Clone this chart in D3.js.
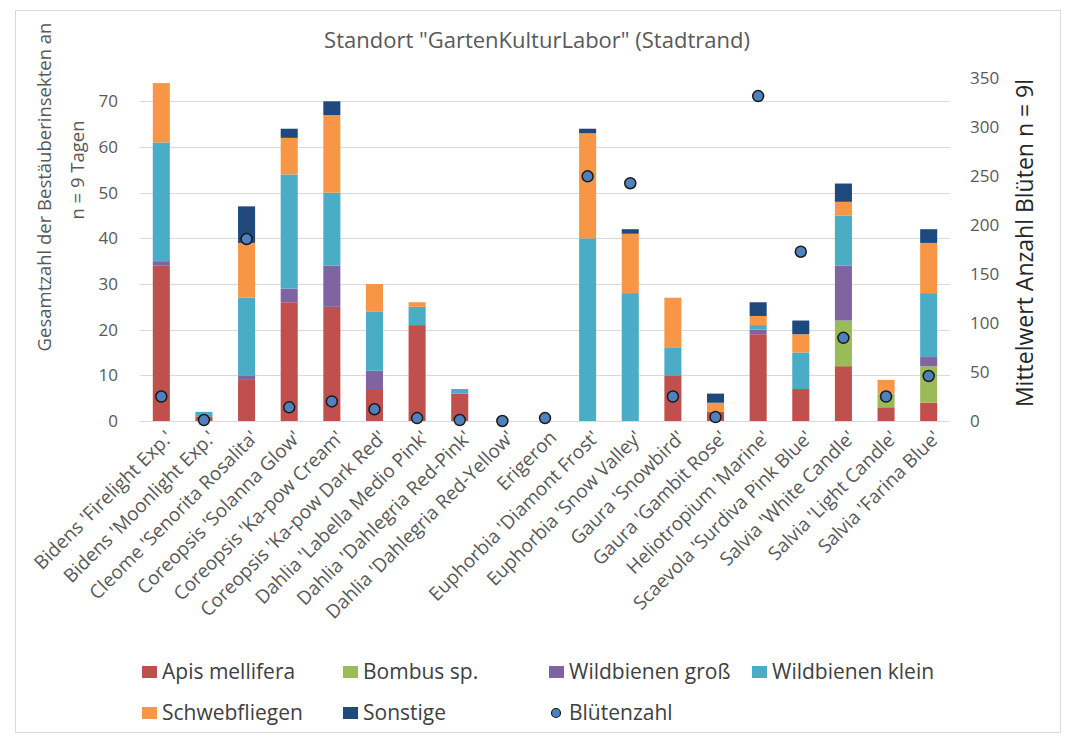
<html>
<head>
<meta charset="utf-8">
<script src="https://d3js.org/d3.v7.min.js"></script>
<style>
  body { margin: 0; background: #fff; }
  text { font-family: "Open Sans", sans-serif; }
</style>
</head>
<body>
<svg id="chart" width="1072" height="736"></svg>
<script>
// categories (plants)
const plants = ["Bidens 'Firelight Exp.'", "Bidens 'Moonlight Exp.'", "Cleome 'Senorita Rosalita'",
  "Coreopsis 'Solanna Glow'", "Coreopsis 'Ka-pow Cream'", "Coreopsis 'Ka-pow Dark Red'",
  "Dahlia 'Labella Medio Pink'", "Dahlia 'Dahlegria Red-Pink'", "Dahlia 'Dahlegria Red-Yellow'",
  "Erigeron", "Euphorbia 'Diamont Frost'", "Euphorbia 'Snow Valley'", "Gaura 'Snowbird'",
  "Gaura 'Gambit Rose'", "Heliotropium 'Marine'", "Scaevola 'Surdiva Pink Blue'",
  "Salvia 'White Candle'", "Salvia 'Light Candle'", "Salvia 'Farina Blue'"];

// insect counts per plant (left axis)
const apis       = [34, 1,  9, 26, 25, 7, 21, 6, 0, 0,  0,  0, 10, 2, 19,  7, 12, 3,  4];
const bombus     = [ 0, 0,  0,  0,  0, 0,  0, 0, 0, 0,  0,  0,  0, 0,  0,  0, 10, 3,  8];
const wildGross  = [ 1, 0,  1,  3,  9, 4,  0, 0, 0, 0,  0,  0,  0, 0,  1,  0, 12, 0,  2];
const wildKlein  = [26, 1, 17, 25, 16, 13, 4, 1, 0, 0, 40, 28,  6, 0,  1,  8, 11, 0, 14];
const schweb     = [13, 0, 12,  8, 17, 6,  1, 0, 0, 0, 23, 13, 11, 2,  2,  4,  3, 3, 11];
const sonstige   = [ 0, 0,  8,  2,  3, 0,  0, 0, 0, 0,  1,  1,  0, 2,  3,  3,  4, 0,  3];

// mean number of flowers (right axis)
const bluetenzahl = [25, 1, 186, 14, 20, 12, 3, 1, 0, 3, 250, 243, 25, 4, 332, 173, 85, 25, 46];

const seriesNames = ["Apis mellifera", "Bombus sp.", "Wildbienen groß", "Wildbienen klein", "Schwebfliegen", "Sonstige"];
const seriesValues = [apis, bombus, wildGross, wildKlein, schweb, sonstige];
const seriesColors = ["#C0504D", "#9BBB59", "#8064A2", "#4BACC6", "#F79646", "#1F497D"];

const leftTicks = [0, 10, 20, 30, 40, 50, 60, 70];
const rightTicks = [0, 50, 100, 150, 200, 250, 300, 350];

const svg = d3.select("#chart");

// outer chart border
svg.append("rect").attr("x", 15.5).attr("y", 10.5).attr("width", 1045).attr("height", 722)
  .attr("fill", "none").attr("stroke", "#d9d9d9");

const x = d3.scaleBand().domain(plants).range([140, 950]).paddingInner(0.6).paddingOuter(0.3);
const yL = d3.scaleLinear().domain([0, 75]).range([421, 78.5]);
const yR = d3.scaleLinear().domain([0, 350]).range([421, 78.5]);

// gridlines
svg.append("g").selectAll("line").data(leftTicks).join("line")
  .attr("x1", 140).attr("x2", 950)
  .attr("y1", d => Math.round(yL(d)) + 0.5).attr("y2", d => Math.round(yL(d)) + 0.5)
  .attr("stroke", "#d9d9d9").attr("stroke-width", 1);

// left axis
const axL = svg.append("g").attr("transform", "translate(140,0)")
  .call(d3.axisLeft(yL).tickValues(leftTicks).tickSize(0).tickPadding(22));
axL.select(".domain").remove();
axL.selectAll("text").attr("font-size", 17).attr("fill", "#595959").attr("font-family", "Open Sans");

// right axis
const axR = svg.append("g").attr("transform", "translate(950,0)")
  .call(d3.axisRight(yR).tickValues(rightTicks).tickSize(0).tickPadding(20));
axR.select(".domain").remove();
axR.selectAll("text").attr("font-size", 17).attr("fill", "#595959").attr("font-family", "Open Sans");

// stacked data
const rows = plants.map((p, i) => {
  const r = { plant: p };
  seriesNames.forEach((s, k) => r[s] = seriesValues[k][i]);
  return r;
});
const stack = d3.stack().keys(seriesNames)(rows);

svg.append("g").selectAll("g").data(stack).join("g")
  .attr("fill", (d, i) => seriesColors[i])
  .selectAll("rect").data(d => d).join("rect")
  .attr("x", d => x(d.data.plant))
  .attr("width", x.bandwidth())
  .attr("y", d => yL(d[1]))
  .attr("height", d => yL(d[0]) - yL(d[1]));

// bottom axis line
svg.append("line").attr("x1", 140).attr("x2", 950).attr("y1", 421.5).attr("y2", 421.5)
  .attr("stroke", "#d9d9d9");

// category labels
const axB = svg.append("g").attr("transform", "translate(0,421)")
  .call(d3.axisBottom(x).tickSize(0).tickPadding(0));
axB.select(".domain").remove();
axB.selectAll("text")
  .attr("font-size", 19).attr("fill", "#595959").attr("font-family", "Open Sans")
  .attr("text-anchor", "end")
  .attr("dy", "0.35em")
  .attr("transform", "translate(8,13) rotate(-45)");

// flower dots
svg.append("g").selectAll("circle").data(bluetenzahl).join("circle")
  .attr("cx", (d, i) => x(plants[i]) + x.bandwidth() / 2)
  .attr("cy", d => yR(d))
  .attr("r", 5.5)
  .attr("fill", "#4F81BD").attr("stroke", "#1a1a1a").attr("stroke-width", 1.5);

// title
svg.append("text").attr("x", 537).attr("y", 48).attr("text-anchor", "middle")
  .attr("font-size", 22).attr("fill", "#595959")
  .text('Standort "GartenKulturLabor" (Stadtrand)');

// left axis title
svg.append("text").attr("transform", "translate(51,187) rotate(-90)")
  .attr("text-anchor", "middle").attr("font-size", 18.5).attr("fill", "#595959")
  .text("Gesamtzahl der Bestäuberinsekten an");
svg.append("text").attr("transform", "translate(84,170) rotate(-90)")
  .attr("text-anchor", "middle").attr("font-size", 18.5).attr("fill", "#595959")
  .text("n = 9 Tagen");

// right axis title
svg.append("text").attr("transform", "translate(1033,243) rotate(-90)")
  .attr("text-anchor", "middle").attr("font-size", 23).attr("fill", "#262626")
  .text("Mittelwert Anzahl Blüten n = 9l");

// legend
const legendItems = [
  { name: "Apis mellifera", color: seriesColors[0], x: 142, y: 672 },
  { name: "Bombus sp.", color: seriesColors[1], x: 343, y: 672 },
  { name: "Wildbienen groß", color: seriesColors[2], x: 549, y: 672 },
  { name: "Wildbienen klein", color: seriesColors[3], x: 752, y: 672 },
  { name: "Schwebfliegen", color: seriesColors[4], x: 142, y: 713 },
  { name: "Sonstige", color: seriesColors[5], x: 343, y: 713 },
  { name: "Blütenzahl", color: "#4F81BD", x: 549, y: 713, dot: true }
];
const lg = svg.append("g").selectAll("g").data(legendItems).join("g")
  .attr("transform", d => `translate(${d.x},${d.y})`);
lg.filter(d => !d.dot).append("rect").attr("x", 0).attr("y", -6).attr("width", 15).attr("height", 12)
  .attr("fill", d => d.color);
lg.filter(d => d.dot).append("circle").attr("cx", 7).attr("cy", 0).attr("r", 4.5)
  .attr("fill", d => d.color).attr("stroke", "#1a1a1a").attr("stroke-width", 1.2);
lg.append("text").attr("x", 20).attr("dy", "0.35em").attr("font-size", 21).attr("fill", "#404040")
  .text(d => d.name);
</script>
</body>
</html>
